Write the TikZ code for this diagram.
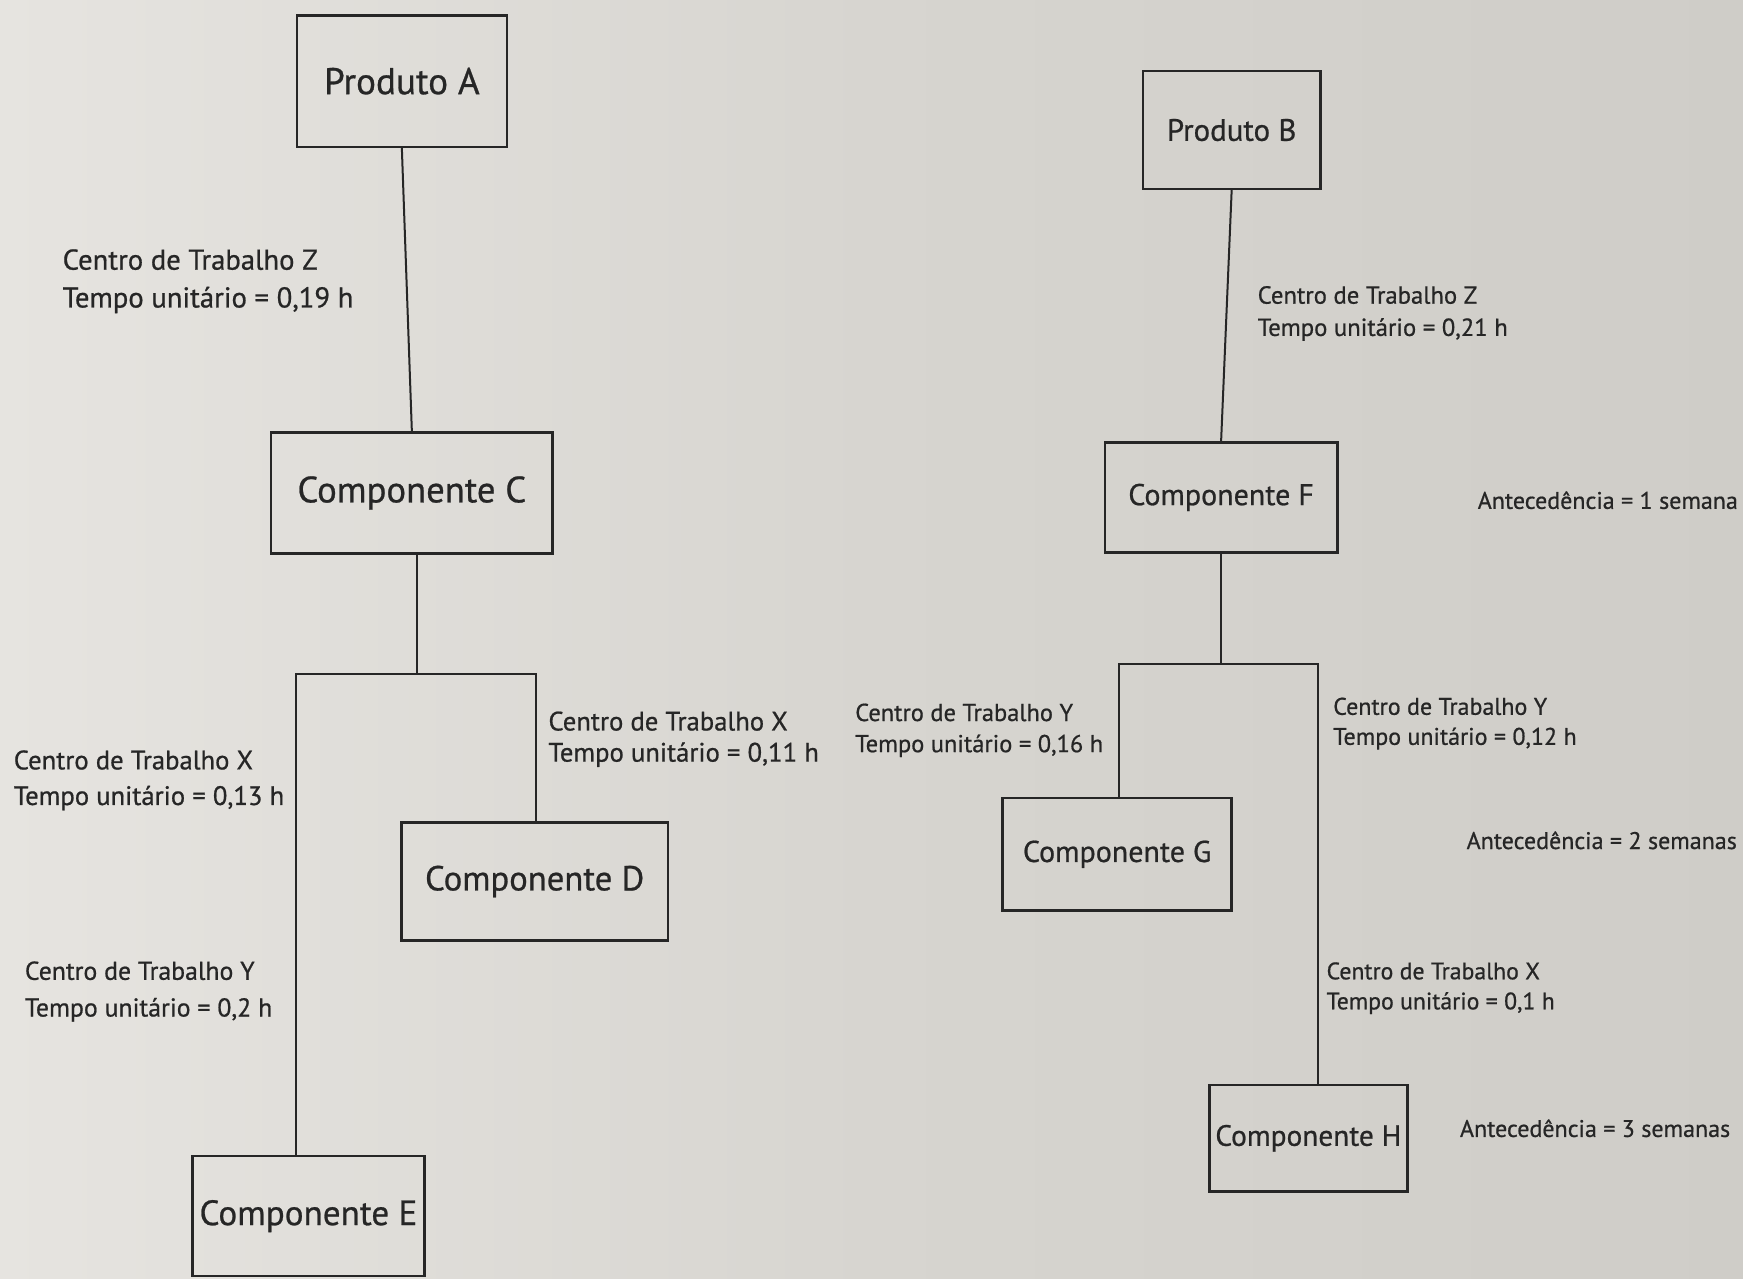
\documentclass[tikz,border=0pt]{standalone}
\usepackage{fontspec}
\setmainfont{PT Sans}[FakeBold=0.7]
\definecolor{ink}{RGB}{38,38,38}
\definecolor{paperL}{RGB}{230,228,224}
\definecolor{paperM}{RGB}{215,213,208}
\definecolor{paperR}{RGB}{207,205,200}
\begin{document}
\begin{tikzpicture}[x=0.5pt,y=-0.5pt,
  box/.style n args={3}{draw=ink, line width=1.1pt, text=ink, inner sep=0pt,
    minimum width=#1, minimum height=#2, font=\fontsize{#3}{#3}\selectfont},
  lbl/.style 2 args={anchor=west, align=left, inner sep=0pt, text=ink,
    font=\fontsize{#1}{#2}\selectfont},
  link/.style={draw=ink, line width=0.9pt}]
  % paper
  \shade[left color=paperL, right color=paperR, middle color=paperM]
    (0,0) rectangle (1568,1150);
  \useasboundingbox (0,0) rectangle (1568,1150);

  % ---- Produto A tree ----
  \node[box={94.5pt}{59pt}{16.7}]   (pa) at (361.5,73)   {Produto A};
  \node[box={126.5pt}{54.5pt}{16.5}] (cc) at (370.5,443.5) {Componente C};
  \node[box={120pt}{53pt}{15.6}]    (cd) at (481,793)    {Componente D};
  \node[box={104.5pt}{54pt}{15.8}]  (ce) at (277.5,1094) {Componente E};

  \coordinate (jA)  at (375,606);
  \coordinate (jAl) at (266,606);
  \coordinate (jAr) at (482,606);

  \draw[link] (pa.south) -- (cc.north);
  \draw[link] (cc.south -| jA) -- (jA);
  \draw[link] (jAl |- ce.north) -- (jAl) -- (jAr) -- (jAr |- cd.north);

  \node[lbl={12.9}{17}] (lz) at (56,253)
    {Centro de Trabalho Z\\Tempo unitário = 0,19 h};
  \node[lbl={12}{16}] (lx1) at (12,702)
    {Centro de Trabalho X\\Tempo unitário = 0,13 h};
  \node[lbl={12}{14}] (lx2) at (493,665)
    {Centro de Trabalho X\\Tempo unitário = 0,11 h};
  \node[lbl={11.6}{16.5}] (ly1) at (22,892)
    {Centro de Trabalho Y\\Tempo unitário = 0,2 h};

  % ---- Produto B tree ----
  \node[box={80pt}{53pt}{13.9}]     (pb) at (1108,117)    {Produto B};
  \node[box={104.5pt}{49.5pt}{13.5}] (cf) at (1098.5,447.5) {Componente F};
  \node[box={103pt}{50.5pt}{13.5}]  (cg) at (1005,768.5)  {Componente G};
  \node[box={89pt}{48pt}{13.2}]     (ch) at (1177,1024)   {Componente H};

  \coordinate (jB)  at (1098,597);
  \coordinate (jBl) at (1007,597);
  \coordinate (jBr) at (1186,597);

  \draw[link] (pb.south) -- (cf.north);
  \draw[link] (cf.south -| jB) -- (jB);
  \draw[link] (jBl |- cg.north) -- (jBl) -- (jBr) -- (jBr |- ch.north);

  \node[lbl={11.1}{14.5}] (lz2) at (1131,282)
    {Centro de Trabalho Z\\Tempo unitário = 0,21 h};
  \node[lbl={11}{14}] (ly2) at (769,657)
    {Centro de Trabalho Y\\Tempo unitário = 0,16 h};
  \node[lbl={10.8}{13.5}] (ly3) at (1199,651)
    {Centro de Trabalho Y\\Tempo unitário = 0,12 h};
  \node[lbl={10.7}{13.5}] (lx3) at (1193,889)
    {Centro de Trabalho X\\Tempo unitário = 0,1 h};

  \node[lbl={10.8}{12}] (a1) at (1329,450) {Antecedência = 1 semana};
  \node[lbl={10.8}{12}] (a2) at (1319,756) {Antecedência = 2 semanas};
  \node[lbl={10.8}{12}] (a3) at (1313,1015) {Antecedência = 3 semanas};
\end{tikzpicture}
\end{document}
